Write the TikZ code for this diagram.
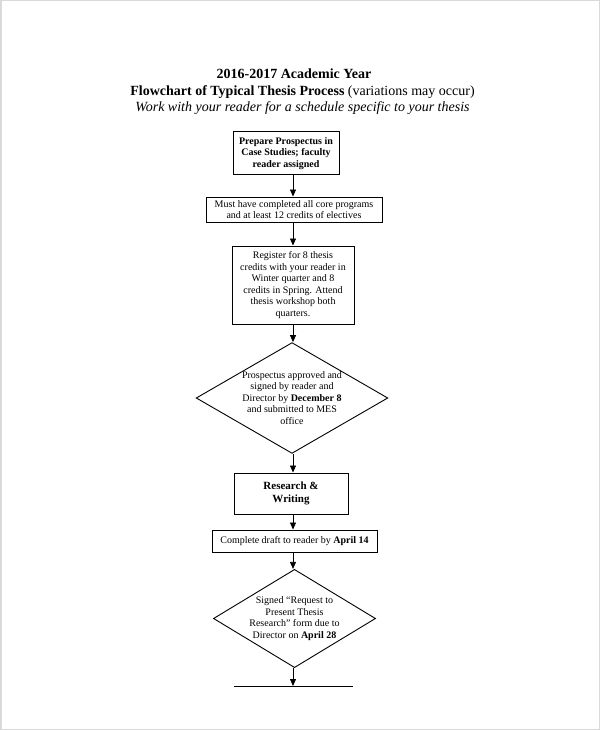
\documentclass[tikz,border=0pt]{standalone}
\usepackage{fontspec}
\setmainfont{Liberation Serif}
\usetikzlibrary{shapes.geometric}
\usetikzlibrary{arrows.meta}

\begin{document}
\begin{tikzpicture}[x=1pt,y=-1pt,
  stepbox/.style={draw, line width=1pt, inner sep=0pt, align=center,
    font=\fontsize{10}{11.5}\selectfont},
  decision/.style={draw, diamond, line width=0.9pt, inner sep=0pt, align=center,
    font=\fontsize{10}{11.5}\selectfont},
  arr/.style={line width=0.75pt, -{Triangle[length=7pt,width=6pt]}}]
% Centre line of the chart
\def\cx{293}
% Page frame
\useasboundingbox (0,0) rectangle (600,730);
\draw[black!15, line width=1.5pt] (0.75,0.75) rectangle (599.25,729.25);
% Heading lines
\node[anchor=base, font=\fontsize{14}{17}\selectfont\bfseries] (title) at (294,79) {2016-2017 Academic Year};
\node[anchor=base, font=\fontsize{14}{17}\selectfont] (subtitle) at (302.5,96)
  {\textbf{Flowchart of Typical Thesis Process} (variations may occur)};
\node[anchor=base, font=\fontsize{14}{17}\selectfont\itshape] (note) at (302.5,112)
  {Work with your reader for a schedule specific to your thesis};
% Boxes and decisions, top to bottom
\node[stepbox, font=\fontsize{10}{11.5}\selectfont\bfseries, minimum width=106pt, minimum height=43pt]
  (prospectus) at (286,153.5) {Prepare Prospectus in\\Case Studies; faculty\\reader assigned};
\node[stepbox, minimum width=176pt, minimum height=25pt]
  (core) at (294,209.5) {Must have completed all core programs\\and at least 12 credits of electives};
\node[stepbox, minimum width=122pt, minimum height=78pt]
  (register) at (\cx,285) {Register for 8 thesis\\credits with your reader in\\Winter quarter and 8\\credits in Spring. Attend\\thesis workshop both\\quarters.};
\node[decision, shape aspect=1.73, minimum width=190pt, minimum height=110pt]
  (approved) at (292,398) {Prospectus approved and\\signed by reader and\\Director by \textbf{December 8}\\and submitted to MES\\office};
\node[stepbox, font=\fontsize{11}{13}\selectfont\bfseries, minimum width=114pt, minimum height=41pt]
  (research) at (291,493.5) {Research \&\\Writing};
\node[stepbox, minimum width=165pt, minimum height=22pt]
  (draft) at (294.5,541) {Complete draft to reader by \textbf{April 14}};
\node[decision, shape aspect=1.65, minimum width=157pt, minimum height=95pt]
  (request) at (294.5,618.5) {Signed “Request to\\Present Thesis\\Research” form due to\\Director on \textbf{April 28}};
% Next box, cut off by the page edge
\coordinate (nextL) at (234,686);
\coordinate (nextR) at (353,686);
\coordinate (next) at (\cx,686);
\draw[line width=1pt] (nextL) -- (nextR);
% Connectors
\draw[arr] (prospectus.south -| \cx,0) -- (core.north -| \cx,0);
\draw[arr] (core.south -| \cx,0) -- (register.north);
\draw[arr] (register.south) -- (approved.north -| \cx,0);
\draw[arr] (approved.south -| \cx,0) -- (research.north -| \cx,0);
\draw[arr] (research.south -| \cx,0) -- (draft.north -| \cx,0);
\draw[arr] (draft.south -| \cx,0) -- (request.north -| \cx,0);
\draw[arr] (request.south -| \cx,0) -- (next);
\end{tikzpicture}
\end{document}
